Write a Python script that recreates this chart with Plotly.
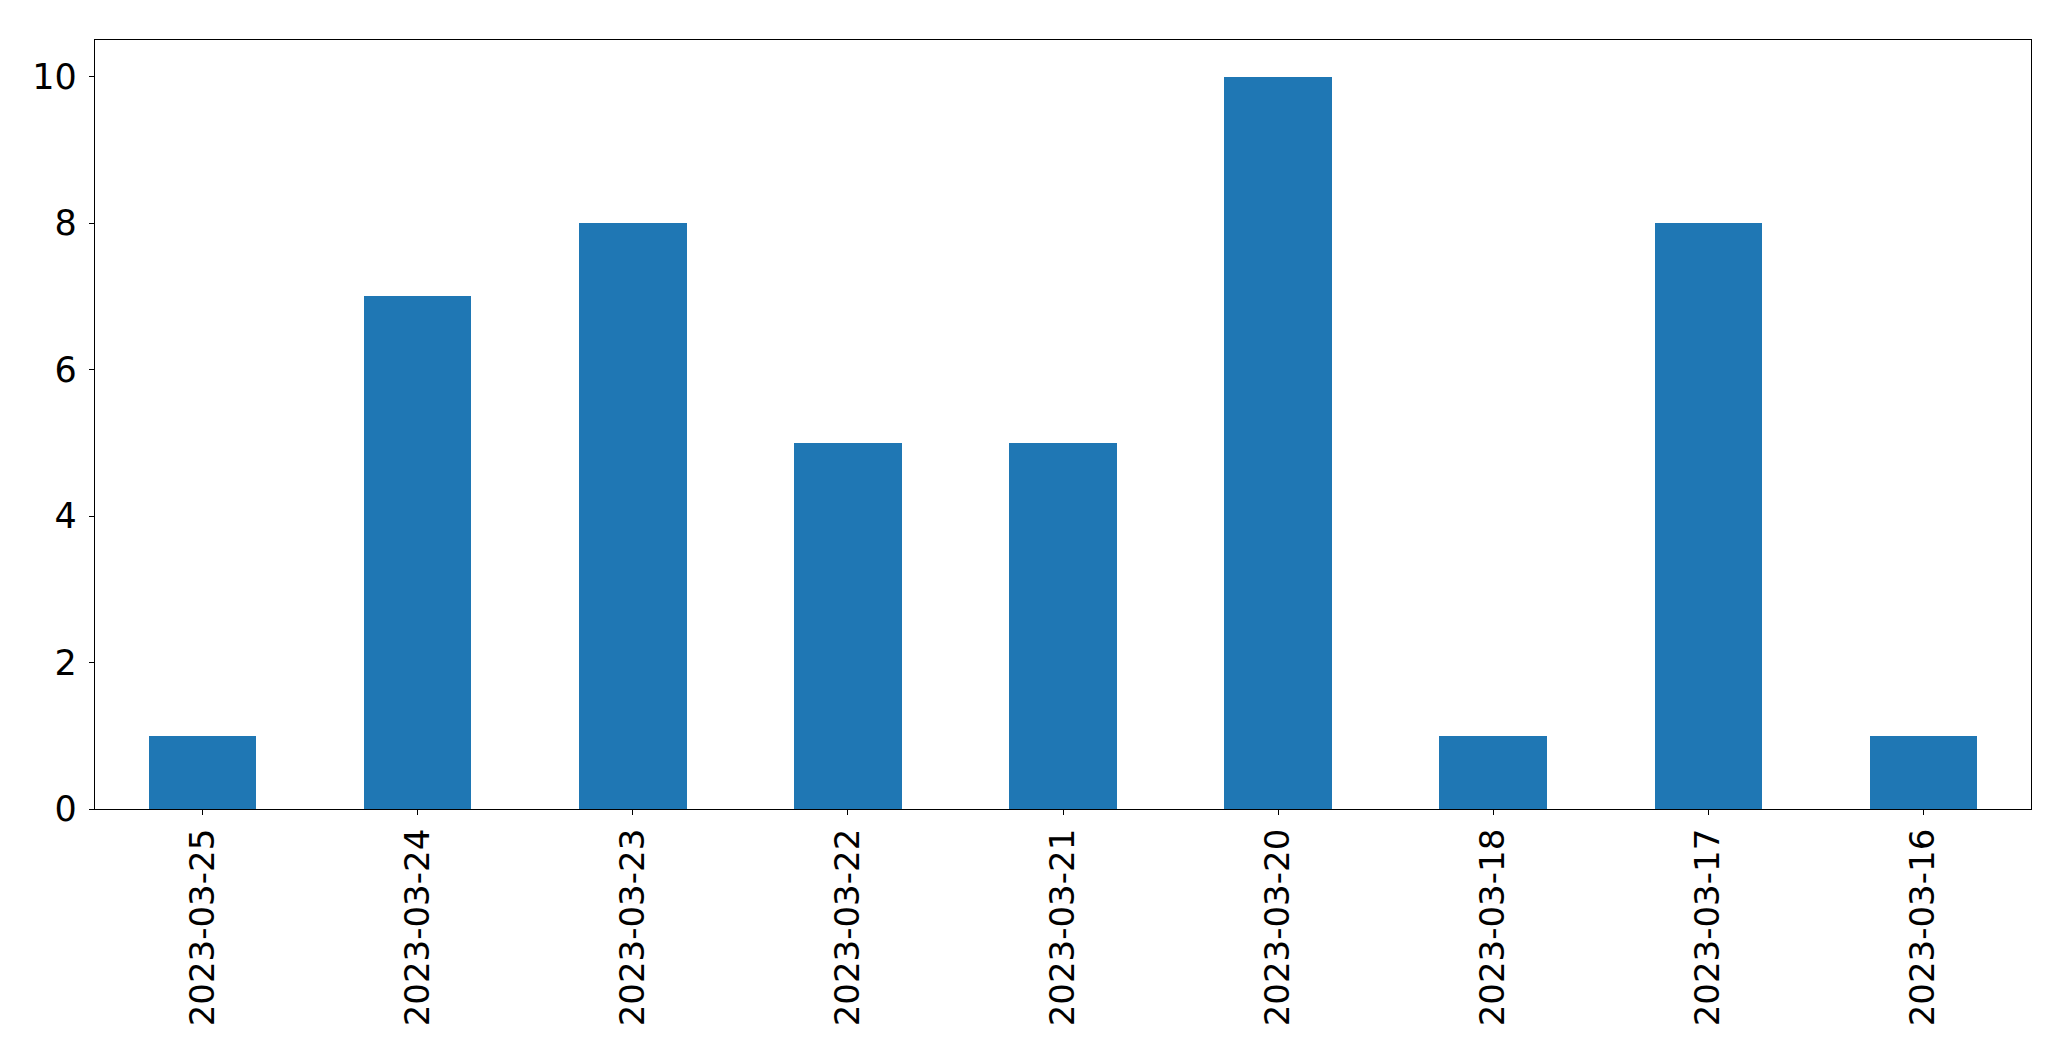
import plotly.graph_objects as go

categories = ["2023-03-25", "2023-03-24", "2023-03-23", "2023-03-22", "2023-03-21",
              "2023-03-20", "2023-03-18", "2023-03-17", "2023-03-16"]
values = [1, 7, 8, 5, 5, 10, 1, 8, 1]
y_ticks = [0, 2, 4, 6, 8, 10]

fig = go.Figure(go.Bar(x=categories, y=values, width=0.5, marker_color="#1f77b4",
                       marker_line_width=0))

fig.update_layout(
    width=2063, height=1053,
    margin=dict(l=86.5, r=39.5, t=31.5, b=252, autoexpand=False),
    plot_bgcolor="white", paper_bgcolor="white",
    font=dict(family="DejaVu Sans", size=34, color="black"),
    showlegend=False,
    bargap=0,
)
fig.update_xaxes(type="category", range=[-0.5, 8.5], tickangle=-90,
                 showline=True, linecolor="black", linewidth=1.3, mirror=True,
                 ticks="outside", ticklen=5, tickwidth=1.3, tickcolor="black",
                 showgrid=False, zeroline=False, ticklabelstandoff=0)
fig.update_yaxes(range=[0, 10.5], tickvals=y_ticks,
                 showline=True, linecolor="black", linewidth=1.3, mirror=True,
                 ticks="outside", ticklen=5, tickwidth=1.3, tickcolor="black",
                 showgrid=False, zeroline=False, ticklabelstandoff=5,
                 tickfont=dict(size=35))

fig.write_html("out.html")
